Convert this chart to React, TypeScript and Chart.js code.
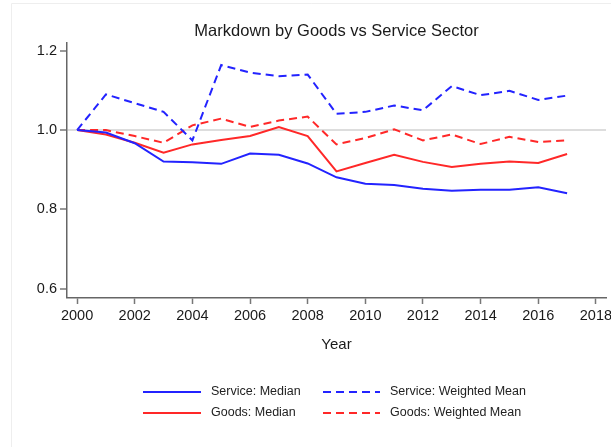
import React, { useEffect, useRef } from "react";
import { Chart, registerables } from "chart.js";

Chart.register(...registerables);

const years = [2000, 2001, 2002, 2003, 2004, 2005, 2006, 2007, 2008, 2009, 2010, 2011, 2012, 2013, 2014, 2015, 2016, 2017];
const serviceMedian = [1.0, 0.994, 0.967, 0.921, 0.919, 0.915, 0.941, 0.938, 0.916, 0.881, 0.865, 0.862, 0.852, 0.847, 0.85, 0.85, 0.856, 0.841];
const goodsMedian = [1.0, 0.989, 0.968, 0.943, 0.964, 0.975, 0.985, 1.008, 0.985, 0.896, 0.917, 0.938, 0.92, 0.907, 0.915, 0.921, 0.917, 0.94];
const serviceWeightedMean = [1.0, 1.09, 1.068, 1.046, 0.974, 1.164, 1.145, 1.136, 1.14, 1.041, 1.046, 1.062, 1.05, 1.111, 1.088, 1.099, 1.076, 1.087];
const goodsWeightedMean = [1.0, 1.0, 0.985, 0.968, 1.012, 1.029, 1.008, 1.024, 1.034, 0.964, 0.98, 1.002, 0.974, 0.989, 0.965, 0.983, 0.97, 0.974];

const xTicks = [2000, 2002, 2004, 2006, 2008, 2010, 2012, 2014, 2016, 2018];
const yTicks = [0.6, 0.8, 1.0, 1.2];

const BLUE = "rgb(35,35,255)";
const RED = "rgb(255,40,40)";
const FONT = "'Liberation Sans', Arial, Helvetica, sans-serif";
const DASH = [8, 5];

const toPts = (vals: number[]) => vals.map((v, i) => ({ x: years[i], y: v }));

const legendPlugin = {
  id: "customLegend",
  afterDraw(chart: any) {
    const ctx = chart.ctx;
    const ds = chart.data.datasets;
    const cols = [
      { lx1: 143, lx2: 201, tx: 211 },
      { lx1: 323, lx2: 380, tx: 390 },
    ];
    const rows = [392, 413];
    const layout = [
      { d: 0, c: 0, r: 0 },
      { d: 2, c: 1, r: 0 },
      { d: 1, c: 0, r: 1 },
      { d: 3, c: 1, r: 1 },
    ];
    ctx.save();
    layout.forEach((it) => {
      const d = ds[it.d];
      const col = cols[it.c];
      const y = rows[it.r];
      ctx.beginPath();
      ctx.strokeStyle = d.borderColor;
      ctx.lineWidth = 2;
      ctx.setLineDash(d.borderDash || []);
      ctx.moveTo(col.lx1, y);
      ctx.lineTo(col.lx2, y);
      ctx.stroke();
      ctx.setLineDash([]);
      ctx.fillStyle = "#222";
      ctx.font = `12.5px ${FONT}`;
      ctx.textBaseline = "middle";
      ctx.textAlign = "left";
      ctx.fillText(d.label, col.tx, y);
    });
    ctx.restore();
  },
};

const framePlugin = {
  id: "frame",
  beforeDraw(chart: any) {
    const ctx = chart.ctx;
    ctx.save();
    ctx.strokeStyle = "#eeeeee";
    ctx.lineWidth = 1;
    ctx.beginPath();
    ctx.moveTo(11.5, 447);
    ctx.lineTo(11.5, 3.5);
    ctx.lineTo(611, 3.5);
    ctx.stroke();
    ctx.restore();
  },
};

export default function App() {
  const ref = useRef<HTMLCanvasElement | null>(null);

  useEffect(() => {
    if (!ref.current) return;
    const chart = new Chart(ref.current, {
      type: "line",
      data: {
        datasets: [
          {
            label: "Service: Median",
            data: toPts(serviceMedian),
            borderColor: BLUE,
            borderWidth: 2,
            pointRadius: 0,
            tension: 0,
          },
          {
            label: "Goods: Median",
            data: toPts(goodsMedian),
            borderColor: RED,
            borderWidth: 2,
            pointRadius: 0,
            tension: 0,
          },
          {
            label: "Service: Weighted Mean",
            data: toPts(serviceWeightedMean),
            borderColor: BLUE,
            borderWidth: 2,
            borderDash: DASH,
            pointRadius: 0,
            tension: 0,
          },
          {
            label: "Goods: Weighted Mean",
            data: toPts(goodsWeightedMean),
            borderColor: RED,
            borderWidth: 2,
            borderDash: DASH,
            pointRadius: 0,
            tension: 0,
          },
        ],
      },
      options: {
        responsive: false,
        animation: false,
        layout: { padding: { top: 22, left: 0, right: 5, bottom: 89 } },
        plugins: {
          legend: { display: false },
          tooltip: { enabled: false },
          title: {
            display: true,
            text: "Markdown by Goods vs Service Sector",
            fullSize: false,
            color: "#1a1a1a",
            font: { family: FONT, size: 16.5, weight: "normal" },
            padding: { top: 0, bottom: 1 },
          },
        },
        scales: {
          x: {
            type: "linear",
            min: 1999.65,
            max: 2018.35,
            afterBuildTicks: (scale: any) => {
              scale.ticks = xTicks.map((v) => ({ value: v }));
            },
            afterFit: (scale: any) => {
              scale.height = 60;
              scale.paddingLeft = 0;
              scale.paddingRight = 0;
            },
            ticks: {
              callback: (v: any) => String(v),
              color: "#1a1a1a",
              font: { family: FONT, size: 14.5 },
              padding: 3,
              maxRotation: 0,
              autoSkip: false,
            },
            grid: {
              drawOnChartArea: false,
              drawTicks: true,
              tickLength: 6,
              tickColor: "#777",
              tickWidth: 1.5,
            },
            border: { display: true, color: "#666", width: 1.5 },
            title: {
              display: true,
              text: "Year",
              color: "#1a1a1a",
              font: { family: FONT, size: 15 },
              padding: { top: 4, bottom: 4 },
            },
          },
          y: {
            type: "linear",
            min: 0.577,
            max: 1.22,
            afterBuildTicks: (scale: any) => {
              scale.ticks = yTicks.map((v) => ({ value: v }));
            },
            afterFit: (scale: any) => {
              scale.width = 67;
              scale.paddingTop = 0;
              scale.paddingBottom = 0;
            },
            ticks: {
              callback: (v: any) => Number(v).toFixed(1),
              color: "#1a1a1a",
              font: { family: FONT, size: 14.5 },
              padding: 3,
              autoSkip: false,
            },
            grid: {
              drawOnChartArea: true,
              drawTicks: true,
              tickLength: 7,
              tickColor: "#777",
              tickWidth: 1.5,
              color: (c: any) =>
                c.tick && Math.abs(c.tick.value - 1) < 1e-6 ? "#dddddd" : "rgba(0,0,0,0)",
              lineWidth: (c: any) =>
                c.tick && Math.abs(c.tick.value - 1) < 1e-6 ? 2 : 0,
            },
            border: { display: true, color: "#666", width: 1.5 },
          },
        },
      },
      plugins: [framePlugin, legendPlugin],
    } as any);
    return () => chart.destroy();
  }, []);

  return (
    <div style={{ position: "absolute", left: 0, top: 0, width: 611, height: 447, background: "#fff" }}>
      <canvas ref={ref} width={611} height={447} style={{ display: "block" }} />
    </div>
  );
}
